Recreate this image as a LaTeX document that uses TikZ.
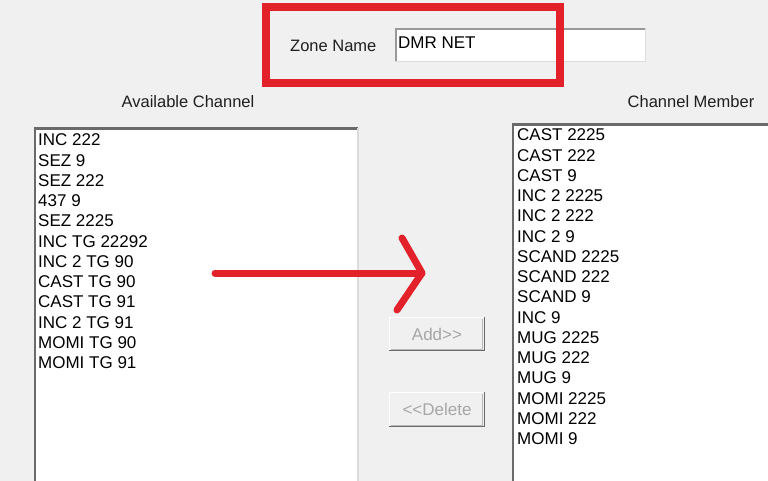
\documentclass[tikz,border=0pt]{standalone}
\usepackage{fontspec}
\setmainfont{Liberation Sans}
\begin{document}
\begin{tikzpicture}[x=1pt,y=-1pt,
  lbl/.style={inner sep=0pt,anchor=west,font=\fontsize{16.5}{19}\selectfont,text=black!88},
  item/.style={inner sep=0pt,anchor=west,font=\fontsize{17}{20}\selectfont,text=black},
  btntext/.style={inner sep=0pt,font=\fontsize{17}{20}\selectfont,text=gray!70},
  redline/.style={draw=markred,line width=7pt,line cap=round,line join=round}]
\definecolor{bg}{HTML}{F0F0F0}
\definecolor{darkedge}{HTML}{6A6A6A}
\definecolor{lightedge}{HTML}{DCDCDC}
\definecolor{markred}{HTML}{E2212B}
\useasboundingbox (0,0) rectangle (768,481);
\fill[bg] (0,0) rectangle (768,481);
% zone name field
\fill[white] (395,28) rectangle (645,62);
\draw[gray!80,line width=2pt] (396,62) -- (396,29) -- (645,29);
\draw[lightedge,line width=1pt] (395,62) -- (645,62) -- (645,28);
\node[lbl] (zlabel) at (290,46) {Zone Name};
\node[item,anchor=west] (zvalue) at (398,43) {DMR NET};
% red box
\draw[draw=markred,line width=8pt] (266,7) rectangle (560,83);
% labels
\node[lbl,anchor=center] (avail) at (188,102) {Available Channel};
\node[lbl,anchor=center] (member) at (691,102) {Channel Member};
% left list box
\fill[white] (34,128) rectangle (358,490);
\draw[darkedge,line width=2.5pt] (35,490) -- (35,128.5) -- (358,128.5);
\draw[lightedge,line width=1.5pt] (358,128) -- (358,490);
% right list box
\fill[white] (512,124) rectangle (775,490);
\draw[darkedge,line width=2.5pt] (513,490) -- (513,124.5) -- (775,124.5);
% left items
\foreach \t [count=\i] in {INC 222,SEZ 9,SEZ 222,437 9,SEZ 2225,INC TG 22292,INC 2 TG 90,CAST TG 90,CAST TG 91,INC 2 TG 91,MOMI TG 90,MOMI TG 91}
  \node[item] (l\i) at (38,{140+(\i-1)*20.25}) {\t};
% right items
\foreach \t [count=\i] in {CAST 2225,CAST 222,CAST 9,INC 2 2225,INC 2 222,INC 2 9,SCAND 2225,SCAND 222,SCAND 9,INC 9,MUG 2225,MUG 222,MUG 9,MOMI 2225,MOMI 222,MOMI 9}
  \node[item] (r\i) at (517,{135+(\i-1)*20.25}) {\t};
% buttons
\foreach \n/\yt/\yb/\txt in {add/317/351/{Add\mbox{>}\mbox{>}},del/392/427/{\mbox{<}\mbox{<}Delete}}{
  \fill[bg] (389,\yt) rectangle (485,\yb);
  \draw[white,line width=1.5pt] (389.5,\yb) -- (389.5,\yt+0.5) -- (485,\yt+0.5);
  \draw[darkedge,line width=1.5pt] (389,\yb-0.5) -- (484.5,\yb-0.5) -- (484.5,\yt);
  \draw[gray!55,line width=1pt] (391,\yb-2) -- (482.5,\yb-2) -- (482.5,\yt+2);
  \node[btntext] (\n) at (437,{(\yt+\yb)/2}) {\txt};
}
% red arrow
\coordinate (astart) at (215,273);
\coordinate (atip) at (422,273);
\coordinate (atop) at (402,238);
\coordinate (abot) at (397,310);
\draw[redline] (astart) -- (atip);
\draw[redline] (atop) -- (atip) -- (abot);
\end{tikzpicture}
\end{document}
